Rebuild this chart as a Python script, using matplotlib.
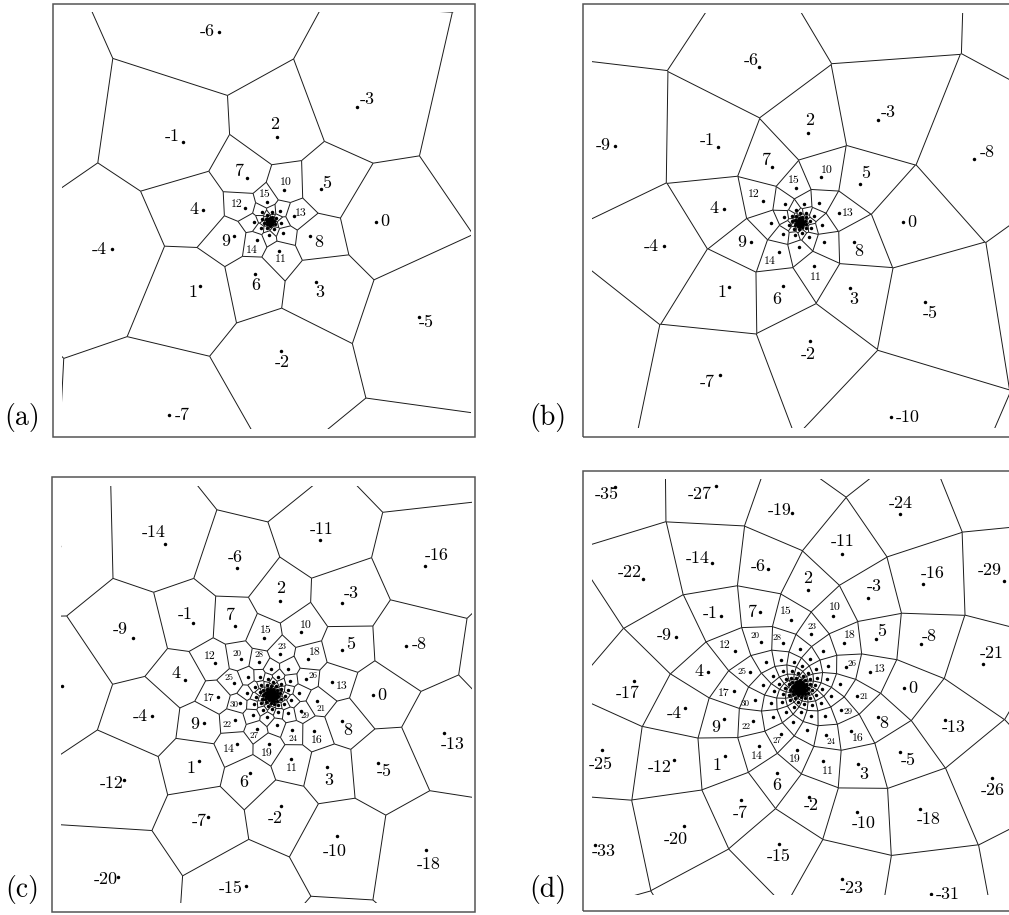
import numpy as np
import matplotlib
matplotlib.use("Agg")
import matplotlib.pyplot as plt
import matplotlib.tri as mtri
from matplotlib.collections import LineCollection
from matplotlib.patches import Rectangle

# lattice index n and polar angle (deg) of point n, for n = -48 .. 154
n_all = list(range(-48, 155))
angle_deg = [
    120, 342.5, 205, 67.5, 290, 152.5, 15, 237.5, 100, 322.5, 185, 47.5,
    270, 132.5, 355, 217.5, 80, 302.5, 165, 27.5, 250, 112.5, 335, 197.5,
    60, 282.5, 145, 7.5, 230, 92.5, 315, 177.5, 40, 262.5, 125, 347.5,
    210, 72.5, 295, 157.5, 20, 242.5, 105, 327.5, 190, 52.5, 275, 137.5,
    0, 222.5, 85, 307.5, 170, 32.5, 255, 117.5, 340, 202.5, 65, 287.5,
    150, 12.5, 235, 97.5, 320, 182.5, 45, 267.5, 130, 352.5, 215, 77.5,
    300, 162.5, 25, 247.5, 110, 332.5, 195, 57.5, 280, 142.5, 5, 227.5,
    90, 312.5, 175, 37.5, 260, 122.5, 345, 207.5, 70, 292.5, 155, 17.5,
    240, 102.5, 325, 187.5, 50, 272.5, 135, 357.5, 220, 82.5, 305, 167.5,
    30, 252.5, 115, 337.5, 200, 62.5, 285, 147.5, 10, 232.5, 95, 317.5,
    180, 42.5, 265, 127.5, 350, 212.5, 75, 297.5, 160, 22.5, 245, 107.5,
    330, 192.5, 55, 277.5, 140, 2.5, 225, 87.5, 310, 172.5, 35, 257.5,
    120, 342.5, 205, 67.5, 290, 152.5, 15, 237.5, 100, 322.5, 185, 47.5,
    270, 132.5, 355, 217.5, 80, 302.5, 165, 27.5, 250, 112.5, 335, 197.5,
    60, 282.5, 145, 7.5, 230, 92.5, 315, 177.5, 40, 262.5, 125, 347.5,
    210, 72.5, 295, 157.5, 20, 242.5, 105, 327.5, 190, 52.5, 275, 137.5,
    0, 222.5, 85, 307.5, 170, 32.5, 255, 117.5, 340, 202.5, 65,
]

# radius (px) of each point, per panel
n_a = (-14, 47)
r_a = [448.4, 404.5, 364.9, 329.2, 297.0, 267.9, 241.7, 218.0, 196.7, 177.4,
       160.0, 144.4, 130.2, 117.5,
       106.0, 94.8, 84.8, 75.9, 67.9, 60.7, 54.3, 48.6, 43.5, 38.9, 34.8, 31.1,
       27.8, 24.9, 22.3, 19.9, 17.8, 15.9, 14.3,
       13.2, 12.2, 11.3, 10.5, 9.7, 9.0, 8.3, 7.7, 7.1, 6.6, 6.1, 5.6, 5.2, 4.8,
       4.4, 4.1, 3.8, 3.5, 3.3, 3.0, 2.8, 2.6, 2.4, 2.2, 2.0, 1.9, 1.7, 1.6, 1.5]

n_b = (-20, 70)
r_b = [449.1, 417.2, 387.6, 360.1, 334.5, 310.8, 288.7, 268.2, 249.2, 231.5,
       215.1, 199.8, 185.6, 172.4, 160.2, 148.8, 138.3, 128.5, 119.3, 110.9,
       103.0, 95.7, 88.9, 82.6, 76.7, 71.3, 66.2, 61.5, 57.2, 53.1, 49.3, 45.8,
       42.6, 39.5, 36.7, 34.1, 31.7, 29.5, 27.4, 25.4, 23.6, 21.9, 20.4, 18.9,
       17.6, 16.3, 15.2, 14.1, 13.1,
       12.4, 11.8, 11.2, 10.7, 10.1, 9.6, 9.1, 8.7, 8.3, 7.8, 7.5, 7.1, 6.7, 6.4,
       6.1, 5.8, 5.5, 5.2, 4.9, 4.7, 4.4, 4.2, 4.0, 3.8, 3.6, 3.4, 3.3, 3.1, 2.9,
       2.8, 2.7, 2.5, 2.4, 2.3, 2.2, 2.1, 2.0, 1.9, 1.8, 1.7, 1.6, 1.5]

n_c = (-32, 127)
r_c = [396.1, 379.6, 363.9, 348.8, 334.3, 320.4, 307.1, 294.3, 282.1, 270.4,
       259.2, 248.4, 238.1, 228.2, 218.8, 209.7, 201.0, 192.6, 184.6, 177.0,
       169.6, 162.6, 155.8, 149.4, 143.2, 137.2, 131.5, 126.1, 120.8, 115.8,
       111.0, 106.4,
       102.0, 98.2, 94.5, 91.0, 87.6, 84.3, 81.2, 78.2, 75.2, 72.4,
       69.7, 67.1, 64.6, 62.2, 59.9, 57.6, 55.5, 53.4, 51.4, 49.5,
       47.6, 45.9, 44.1, 42.5, 40.9, 39.4, 37.9, 36.5, 35.1, 33.8,
       32.5, 31.3, 30.2, 29.0, 28.0, 26.9, 25.9, 24.9, 24.0, 23.1,
       22.2, 21.4, 20.6, 19.8, 19.1, 18.4,
       17.8, 17.3, 16.8, 16.3, 15.8, 15.3, 14.9, 14.4, 14.0, 13.6,
       13.2, 12.8, 12.4, 12.0, 11.7, 11.3, 11.0, 10.6, 10.3, 10.0,
       9.7, 9.4, 9.1, 8.9, 8.6, 8.3, 8.1, 7.9, 7.6, 7.4,
       7.2, 7.0, 6.7, 6.5, 6.4, 6.2, 6.0, 5.8, 5.6, 5.5,
       5.3, 5.1, 5.0, 4.8, 4.7, 4.6, 4.4, 4.3, 4.2, 4.0,
       3.9, 3.8, 3.7, 3.6, 3.5, 3.3, 3.2, 3.15, 3.1, 3.0,
       2.9, 2.8, 2.7, 2.6, 2.5, 2.45, 2.4, 2.3, 2.2, 2.15,
       2.1, 2.0, 1.95, 1.9, 1.8, 1.75, 1.7, 1.65, 1.6, 1.55,
       1.5, 1.45]

n_d = (-48, 154)
r_d = [389.8, 379.2, 368.9, 358.9, 349.2, 339.7, 330.5, 321.5, 312.8, 304.3,
       296.0, 288.0, 280.2, 272.6, 265.2, 258.0, 251.0, 244.1, 237.5, 231.1,
       224.8, 218.7, 212.8, 207.0, 201.4, 195.9, 190.6, 185.4, 180.4, 175.5,
       170.7, 166.1, 161.6, 157.2, 152.9, 148.8, 144.7, 140.8, 137.0, 133.2,
       129.6, 126.1, 122.7, 119.4, 116.1, 113.0, 109.9, 106.9,
       104.0, 101.2, 98.4, 95.8, 93.2, 90.6, 88.2, 85.8, 83.4, 81.2, 79.0,
       76.8, 74.8, 72.7, 70.8, 68.8, 67.0, 65.1, 63.4, 61.6, 60.0, 58.3, 56.8,
       55.2, 53.7, 52.3, 50.8, 49.5, 48.1, 46.8, 45.6, 44.3, 43.1, 41.9, 40.8,
       39.7, 38.6, 37.6, 36.6, 35.6, 34.6, 33.7, 32.8, 31.9, 31.0, 30.2, 29.3,
       28.5, 27.8, 27.0, 26.3, 25.6, 24.9, 24.2, 23.5, 22.9, 22.3, 21.7, 21.1,
       20.5, 20.0, 19.4, 18.9, 18.4, 17.9, 17.4, 16.9, 16.5, 16.0, 15.6, 15.2,
       14.7, 14.3, 14.0, 13.6, 13.2, 12.8, 12.5, 12.2, 11.8, 11.5, 11.2, 10.9,
       10.6, 10.3, 10.0, 9.8, 9.5, 9.2, 9.0, 8.7, 8.5, 8.3, 8.0, 7.8, 7.6, 7.4,
       7.2, 7.0, 6.8, 6.6, 6.4, 6.3, 6.1, 5.9, 5.8, 5.6, 5.5, 5.3, 5.2, 5.0,
       4.9, 4.7, 4.6, 4.5, 4.4, 4.2, 4.1, 4.0, 3.9, 3.8, 3.7, 3.6, 3.5, 3.4,
       3.3, 3.2, 3.1, 3.05, 2.97, 2.89, 2.81, 2.73, 2.66, 2.59, 2.52, 2.45,
       2.38, 2.32, 2.25, 2.19, 2.13, 2.07, 2.02, 1.96, 1.91, 1.86, 1.81, 1.76,
       1.71, 1.66, 1.62, 1.57, 1.53, 1.49]

# label offsets from the dot (px, y down)
off_a = {-7: (13, 0), -6: (-11, 0), -5: (7, 6), -4: (-13, 0), -3: (10, -8),
         -2: (1, 11), -1: (-11, -6), 0: (9, 0), 1: (-7, 7), 2: (-2, -13),
         3: (4, 11), 4: (-9, 0), 5: (6, -6), 6: (0, 11), 7: (-8, -7),
         8: (8, 6), 9: (-8, 5), 10: (2, -8), 11: (2, 8), 12: (-9, -3),
         13: (7, -3), 14: (-5, 10), 15: (-2, -8)}
off_b = {-10: (17, 0), -9: (-12, 0), -8: (13, -6), -7: (-13, 7), -6: (-7, -7),
         -5: (5, 11), -4: (-13, 0), -3: (10, -8), -2: (-2, 13), -1: (-11, -7),
         0: (9, 0), 1: (-8, 6), 2: (2, -13), 3: (3, 12), 4: (-10, 0),
         5: (5, -10), 6: (-6, 13), 7: (-5, -7), 8: (5, 10), 9: (-9, 0),
         10: (6, -7), 11: (2, 12), 12: (-9, -6), 13: (9, 0), 14: (-9, 9),
         15: (-2, -8)}
off_c = {-20: (-12, 2), -18: (3, 15), -16: (11, -10), -15: (-15, 2),
         -14: (-12, -11), -13: (9, 11), -12: (-13, 4), -11: (1, -11),
         -10: (-2, 15), -9: (-13, -8), -8: (13, -2), -7: (-9, 5), -6: (-2, -11),
         -5: (7, 9), -4: (-12, 0), -3: (9, -10), -2: (-6, 13), -1: (-8, -9),
         0: (9, 0), 1: (-8, 7), 2: (1, -13), 3: (2, 13), 4: (-9, -6),
         5: (8, -5), 6: (-7, 9), 7: (-5, -10), 8: (6, 10), 9: (-10, 2),
         10: (5, -7), 11: (0, 9), 12: (-6, -6), 13: (10, 5), 14: (-8, 5),
         15: (2, -8), 16: (3, 10), 17: (-9, 1), 18: (7, -6), 19: (-2, 9),
         20: (-4, -5), 21: (4, 8), 22: (-8, 5), 23: (2, -7), 24: (1, 8),
         25: (-5, -5), 26: (7, -3), 27: (-3, 7), 28: (0, -7), 29: (4, 5),
         30: (-6, 1)}
off_d = {-35: (-9, 7), -33: (9, 6), -31: (17, 0), -29: (-15, -11),
         -27: (-16, 8), -26: (0, 12), -25: (-1, 14), -24: (1, -10),
         -23: (10, 9), -22: (-14, -6), -21: (8, -10), -20: (-8, 13),
         -19: (-12, -2), -18: (8, 11), -17: (-6, 13), -16: (9, -11),
         -15: (0, 12), -14: (-14, -4), -13: (9, 7), -12: (-14, 7),
         -11: (1, -12), -10: (6, 11), -9: (-12, -2), -8: (8, -7), -7: (-1, 13),
         -6: (-9, -3), -5: (8, 8), -4: (-11, 5), -3: (6, -12), -2: (2, 8),
         -1: (-10, -2), 0: (9, 0), 1: (-8, 9), 2: (0, -12), 3: (6, 10),
         4: (-9, 0), 5: (6, -8), 6: (0, 12), 7: (-7, 0), 8: (6, 7), 9: (-9, 8),
         10: (2, -9), 11: (5, 10), 12: (-10, -5), 13: (9, -3), 14: (-2, 10),
         15: (-5, -9), 16: (7, 7), 17: (-11, 2), 18: (5, -8), 19: (-2, 10),
         20: (-6, -6), 21: (7, 1), 22: (-7, 6), 23: (1, -7), 24: (5, 7),
         25: (-8, 0), 26: (6, -3), 27: (-3, 7), 28: (-6, -5), 29: (7, 2),
         30: (-10, 4)}

W, H = 1009, 915
panels = [
    dict(tag="(a)", n=n_a, r=r_a, off=off_a, center=(269.5, 221.5),
         frame=(53, 4, 475, 437), clip=(62, 12, 471, 429), tagpos=(22, 418)),
    dict(tag="(b)", n=n_b, r=r_b, off=off_b, center=(800, 222),
         frame=(583, 4, 1015, 437), clip=(592, 13, 1009, 428), tagpos=(548, 418)),
    dict(tag="(c)", n=n_c, r=r_c, off=off_c, center=(271.3, 695),
         frame=(52, 477, 475, 912), clip=(61, 486, 472, 903), tagpos=(22, 890)),
    dict(tag="(d)", n=n_d, r=r_d, off=off_d, center=(799.5, 688),
         frame=(583, 471, 1015, 911), clip=(592, 479, 1009, 895), tagpos=(548, 890)),
]


def voronoi_edges(px, py):
    tri = mtri.Triangulation(px, py)
    t = tri.triangles
    ax_, ay_ = px[t[:, 0]], py[t[:, 0]]
    bx, by = px[t[:, 1]], py[t[:, 1]]
    cx, cy = px[t[:, 2]], py[t[:, 2]]
    d = 2 * (ax_ * (by - cy) + bx * (cy - ay_) + cx * (ay_ - by))
    a2, b2, c2 = ax_**2 + ay_**2, bx**2 + by**2, cx**2 + cy**2
    ux = (a2 * (by - cy) + b2 * (cy - ay_) + c2 * (ay_ - by)) / d
    uy = (a2 * (cx - bx) + b2 * (ax_ - cx) + c2 * (bx - ax_)) / d
    segs = []
    for i, nb in enumerate(tri.neighbors):
        for k in range(3):
            j = nb[k]
            if j > i:
                segs.append([(ux[i], uy[i]), (ux[j], uy[j])])
            elif j == -1:
                p, q, o = t[i, k], t[i, (k + 1) % 3], t[i, (k + 2) % 3]
                nx, ny = py[q] - py[p], -(px[q] - px[p])
                mx = (px[p] + px[q]) / 2 - px[o]
                my = (py[p] + py[q]) / 2 - py[o]
                if nx * mx + ny * my < 0:
                    nx, ny = -nx, -ny
                L = np.hypot(nx, ny)
                segs.append([(ux[i], uy[i]), (ux[i] + nx / L * 5000, uy[i] + ny / L * 5000)])
    return segs


def label_size(n):
    if n >= 20:
        return 6.5
    if n >= 10:
        return 8.5
    return 13


fig = plt.figure(figsize=(W / 100, H / 100), dpi=100)

for p in panels:
    lo, hi = p["n"]
    ns = np.arange(lo, hi + 1)
    th = np.radians(np.array(angle_deg[lo + 48:hi + 49]))
    r = np.array(p["r"])
    x = r * np.cos(th)
    y = r * np.sin(th)

    cx, cy = p["center"]
    x0, y0, x1, y1 = p["clip"]
    ax = fig.add_axes([x0 / W, 1 - y1 / H, (x1 - x0) / W, (y1 - y0) / H])
    ax.set_xlim(x0 - cx, x1 - cx)
    ax.set_ylim(cy - y1, cy - y0)
    ax.axis("off")

    ax.add_collection(LineCollection(voronoi_edges(x, y), colors="#1a1a1a", linewidths=0.7))
    ax.plot(x, y, "o", color="black", ms=2.5, mew=0)

    inside = (x > x0 - cx) & (x < x1 - cx) & (y > cy - y1) & (y < cy - y0)
    for k, n in enumerate(ns):
        if n in p["off"] and inside[k]:
            dx, dy = p["off"][n]
            ax.text(x[k] + dx, y[k] - dy, str(n), ha="center", va="center",
                    fontsize=label_size(n), family="cmr10", clip_on=False)

    fx0, fy0, fx1, fy1 = p["frame"]
    fig.add_artist(Rectangle((fx0 / W, 1 - fy1 / H), (fx1 - fx0) / W, (fy1 - fy0) / H,
                             transform=fig.transFigure, fill=False, ec="#555555", lw=1.1))
    tx, ty = p["tagpos"]
    fig.text(tx / W, 1 - ty / H, p["tag"], ha="center", va="center",
             fontsize=20, family="cmr10")

fig.savefig("out.png", dpi=100)
